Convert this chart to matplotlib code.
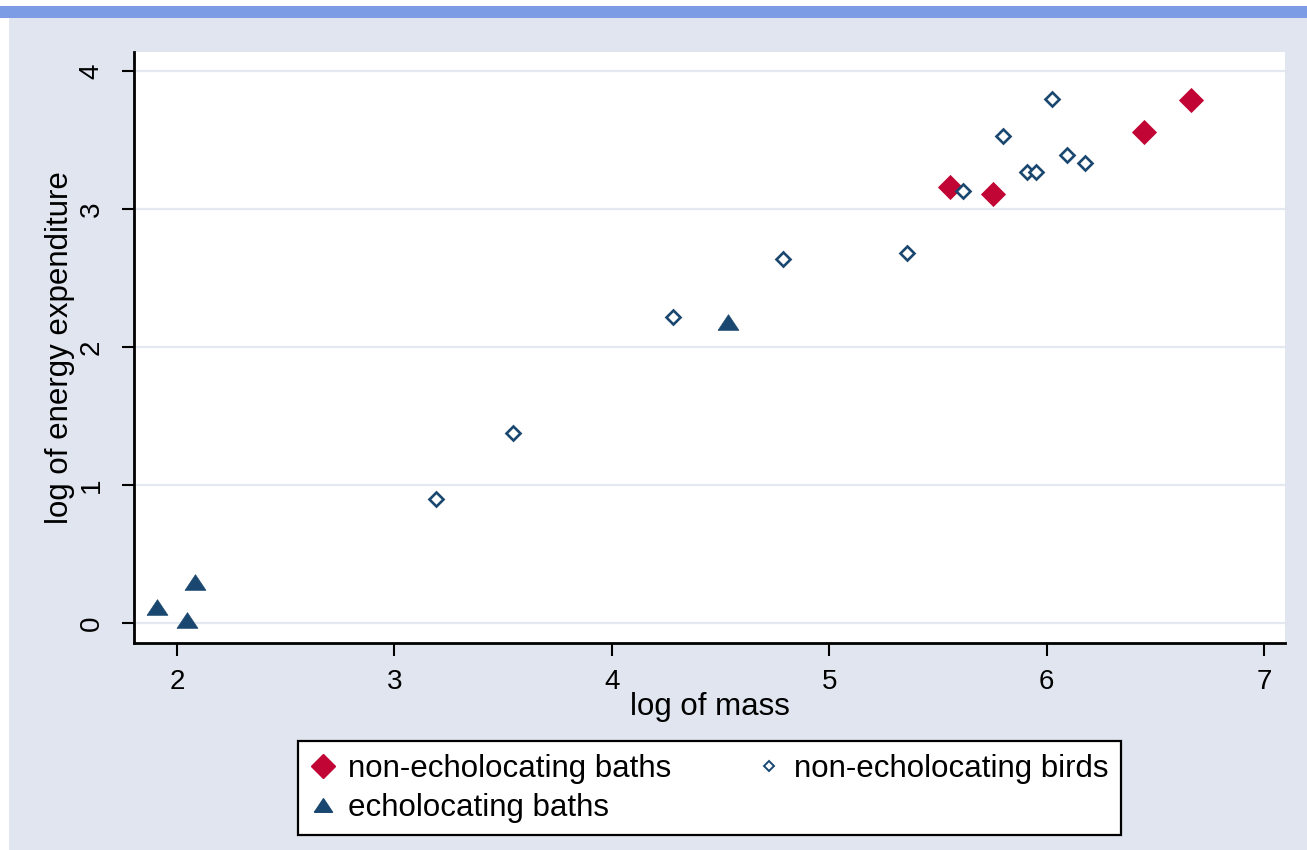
import matplotlib
matplotlib.use("Agg")
import matplotlib.pyplot as plt
import matplotlib.patches as mpatches
from matplotlib.lines import Line2D

# values (log of mass, log of energy expenditure)
bats_x = [5.556, 5.752, 6.448, 6.663]
bats_y = [3.157, 3.109, 3.558, 3.790]
echo_x = [1.907, 2.045, 2.083, 4.536]
echo_y = [0.114, 0.022, 0.299, 2.183]
birds_x = [3.190, 3.547, 4.283, 4.786, 5.359, 5.614, 5.798, 5.911, 5.951, 6.023, 6.095, 6.177]
birds_y = [0.896, 1.375, 2.220, 2.638, 2.683, 3.133, 3.531, 3.270, 3.270, 3.795, 3.391, 3.331]

xticks = [2, 3, 4, 5, 6, 7]
yticks = [0, 1, 2, 3, 4]
labels = ["non-echolocating baths", "echolocating baths", "non-echolocating birds"]

NAVY = "#1a476f"
CRAN = "#c10534"
BG = "#e0e5ef"
GRID = "#e3e8f1"

plt.rcParams["font.family"] = ["Liberation Sans", "DejaVu Sans"]

fig = plt.figure(figsize=(13.07, 8.5), dpi=100, facecolor=BG)
# screenshot frame: white strips + blue title bar
fig.patches.append(mpatches.Rectangle((0, 0), 9 / 1307, 1, transform=fig.transFigure,
                                      fc="white", ec="none", zorder=0))
fig.patches.append(mpatches.Rectangle((0, 1 - 6 / 850), 1, 6 / 850, transform=fig.transFigure,
                                      fc="white", ec="none", zorder=0))
fig.patches.append(mpatches.Rectangle((0, 1 - 18 / 850), 1, 12 / 850, transform=fig.transFigure,
                                      fc="#7c9de6", ec="none", zorder=0))

ax = fig.add_axes([134 / 1307, 207 / 850, 1151 / 1307, 591 / 850])
ax.set_facecolor("white")

tri = [(-1, -0.75), (1, -0.75), (0, 0.75), (-1, -0.75)]
h1, = ax.plot(bats_x, bats_y, ls="none", marker="D", ms=12.5, mfc=CRAN, mec=CRAN, mew=0.6,
              zorder=3)
h2, = ax.plot(echo_x, echo_y, ls="none", marker=tri, ms=15, mfc=NAVY, mec=NAVY, mew=0.5,
              zorder=3)
h3, = ax.plot(birds_x, birds_y, ls="none", marker="D", ms=7.3, mfc="white", mec=NAVY,
              mew=1.9, zorder=3)

ax.set_xlim(1.802, 7.097)
ax.set_ylim(-0.145, 4.138)
ax.set_xticks(xticks)
ax.set_yticks(yticks)
ax.yaxis.grid(True, color=GRID, lw=1.6)
ax.set_axisbelow(True)
for s in ("top", "right"):
    ax.spines[s].set_visible(False)
for s in ("left", "bottom"):
    ax.spines[s].set_linewidth(2)
ax.tick_params(axis="both", length=9, width=1.5, labelsize=20, direction="out")
ax.tick_params(axis="x", pad=10)
ax.tick_params(axis="y", pad=12, labelrotation=90)
for t in ax.get_yticklabels():
    t.set_va("center")

ax.set_xlabel("log of mass", fontsize=22.5)
ax.xaxis.set_label_coords(0.5, -(707 - 643) / 591)
ax.xaxis.label.set_va("center")
ax.set_ylabel("log of energy expenditure", fontsize=22.5)
ax.yaxis.set_label_coords((60 - 134) / 1151, 0.5)
ax.yaxis.label.set_va("center")
ax.yaxis.label.set_ha("center")

lh = [Line2D([], [], ls="none", marker="D", ms=12, mfc=CRAN, mec=CRAN),
      Line2D([], [], ls="none", marker=tri, ms=13, mfc=NAVY, mec=NAVY),
      Line2D([], [], ls="none", marker="D", ms=5.5, mfc="white", mec=NAVY, mew=1.4)]
leg = fig.legend(lh, labels, ncol=2, loc="upper center",
                 bbox_to_anchor=(709.5 / 1307, 1 - 741 / 850), borderaxespad=0,
                 fontsize=22.5, frameon=True, fancybox=False, edgecolor="black",
                 facecolor="white", framealpha=1, handlelength=0.8, handletextpad=0.4,
                 columnspacing=2.7, labelspacing=0.3, borderpad=0.4)
leg.get_frame().set_linewidth(1.6)

fig.savefig("out.png", dpi=100, facecolor=BG)
